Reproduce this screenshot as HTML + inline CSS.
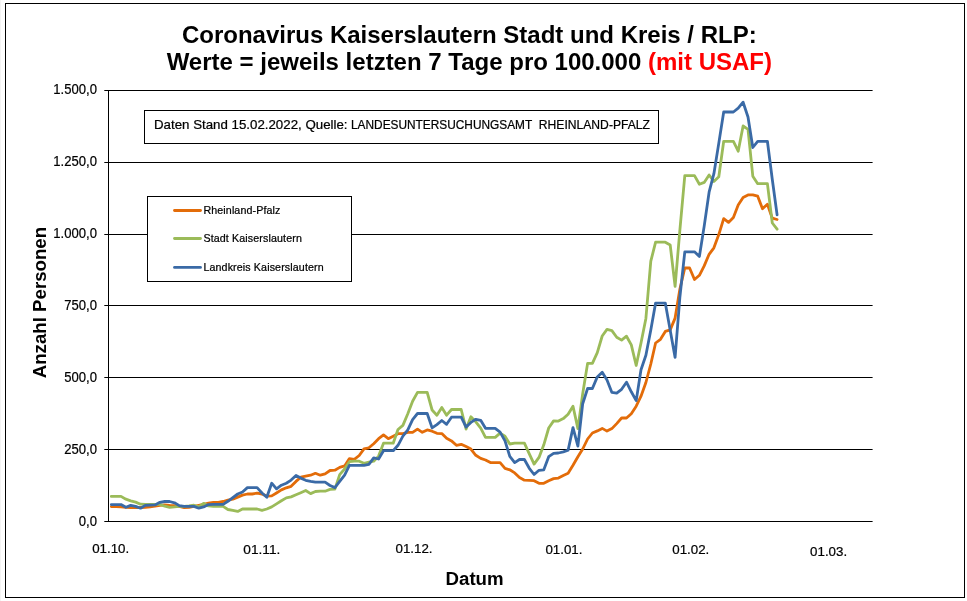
<!DOCTYPE html>
<html lang="de"><head><meta charset="utf-8"><title>Coronavirus Kaiserslautern Stadt und Kreis / RLP</title>
<style>html,body{margin:0;padding:0;background:#fff;}body{width:967px;height:601px;overflow:hidden;}svg{display:block;}text{font-family:"Liberation Sans",Arial,sans-serif;fill:#000;}.s{stroke:#000;stroke-width:0.22px;}</style></head><body>
<svg width="967" height="601" viewBox="0 0 967 601">
<rect x="0" y="0" width="967" height="601" fill="#fff"/>
<rect x="0" y="0" width="1" height="601" fill="#f4f4f4"/>
<rect x="5.5" y="3.5" width="959" height="594" fill="#fff" stroke="#000" stroke-width="1"/>
<line x1="104.3" y1="90.5" x2="872.6" y2="90.5" stroke="#000" stroke-width="1"/>
<line x1="104.3" y1="162.5" x2="872.6" y2="162.5" stroke="#000" stroke-width="1"/>
<line x1="104.3" y1="234.5" x2="872.6" y2="234.5" stroke="#000" stroke-width="1"/>
<line x1="104.3" y1="305.5" x2="872.6" y2="305.5" stroke="#000" stroke-width="1"/>
<line x1="104.3" y1="377.5" x2="872.6" y2="377.5" stroke="#000" stroke-width="1"/>
<line x1="104.3" y1="449.5" x2="872.6" y2="449.5" stroke="#000" stroke-width="1"/>
<line x1="104.3" y1="521.5" x2="872.6" y2="521.5" stroke="#000" stroke-width="1"/>
<line x1="108.5" y1="90" x2="108.5" y2="522" stroke="#000" stroke-width="1"/>
<text class="s" transform="translate(97.0,93.75) scale(0.935,1)" font-size="14" text-anchor="end">1.500,0</text>
<text class="s" transform="translate(97.0,165.75) scale(0.935,1)" font-size="14" text-anchor="end">1.250,0</text>
<text class="s" transform="translate(97.0,237.75) scale(0.935,1)" font-size="14" text-anchor="end">1.000,0</text>
<text class="s" transform="translate(97.0,309.75) scale(0.935,1)" font-size="14" text-anchor="end">750,0</text>
<text class="s" transform="translate(97.0,381.75) scale(0.935,1)" font-size="14" text-anchor="end">500,0</text>
<text class="s" transform="translate(97.0,453.75) scale(0.935,1)" font-size="14" text-anchor="end">250,0</text>
<text class="s" transform="translate(97.0,525.75) scale(0.935,1)" font-size="14" text-anchor="end">0,0</text>
<polyline points="111.3,506.6 116.2,506.6 121.0,506.9 125.9,507.3 130.7,507.5 135.6,507.7 140.5,507.5 145.3,507.3 150.2,506.9 155.0,506.2 159.9,505.4 164.8,504.9 169.6,505.4 174.5,505.6 179.3,506.4 184.2,507.7 189.1,507.3 193.9,506.4 198.8,505.4 203.6,504.4 208.5,503.1 213.4,502.5 218.2,502.3 223.1,501.5 227.9,500.2 232.8,499.2 237.7,497.1 242.5,495.1 247.4,494.0 252.2,494.0 257.1,493.2 262.0,494.0 266.8,496.1 271.7,495.9 276.5,493.0 281.4,489.9 286.3,487.8 291.1,486.3 296.0,481.4 300.8,477.2 305.7,476.2 310.6,475.2 315.4,473.3 320.3,475.2 325.1,473.9 330.0,470.5 334.9,470.2 339.7,467.4 344.6,465.9 349.4,458.6 354.3,459.4 359.2,455.5 364.0,448.9 368.9,447.8 373.7,443.7 378.6,438.7 383.5,434.9 388.3,438.7 393.2,436.2 398.0,433.7 402.9,433.7 407.8,432.4 412.6,432.3 417.5,429.1 422.3,432.3 427.2,429.9 432.1,431.2 436.9,433.3 441.8,433.6 446.6,438.3 451.5,440.9 456.4,445.3 461.2,444.3 466.1,446.6 470.9,449.1 475.8,455.3 480.7,458.4 485.5,460.0 490.4,462.6 495.2,462.6 500.1,462.6 505.0,468.3 509.8,469.8 514.7,472.9 519.5,477.6 524.4,480.2 529.3,480.4 534.1,480.7 539.0,483.3 543.8,483.3 548.7,480.7 553.6,478.6 558.4,478.1 563.3,475.5 568.1,473.2 573.0,465.2 577.9,456.7 582.7,449.0 587.6,439.0 592.4,433.0 597.3,430.9 602.2,428.4 607.0,431.1 611.9,428.6 616.7,423.6 621.6,418.0 626.5,418.0 631.3,413.7 636.2,406.2 641.0,396.2 645.9,382.5 650.8,364.0 655.6,343.0 660.5,339.3 665.3,331.4 670.2,329.9 675.1,318.1 679.9,289.0 684.8,268.0 689.6,268.0 694.5,279.5 699.4,275.3 704.2,265.9 709.1,254.3 713.9,247.8 718.8,234.6 723.7,218.6 728.5,222.4 733.4,217.6 738.2,204.9 743.1,197.4 748.0,194.9 752.8,194.9 757.7,196.2 762.5,208.7 767.4,204.3 772.3,218.2 777.1,219.5" fill="none" stroke="#e36c09" stroke-width="2.8" stroke-linejoin="round" stroke-linecap="round"/>
<polyline points="111.3,496.4 116.2,496.4 121.0,496.4 125.9,499.2 130.7,500.8 135.6,502.1 140.5,504.2 145.3,504.4 150.2,504.4 155.0,504.4 159.9,504.4 164.8,506.2 169.6,507.3 174.5,506.9 179.3,506.4 184.2,506.4 189.1,505.9 193.9,505.2 198.8,506.9 203.6,503.3 208.5,505.9 213.4,506.4 218.2,506.4 223.1,506.4 227.9,509.5 232.8,510.4 237.7,511.4 242.5,509.0 247.4,509.0 252.2,509.0 257.1,509.0 262.0,510.4 266.8,509.0 271.7,506.9 276.5,503.9 281.4,500.8 286.3,497.9 291.1,496.9 296.0,494.8 300.8,492.7 305.7,490.5 310.6,493.6 315.4,491.5 320.3,491.2 325.1,491.2 330.0,489.4 334.9,489.1 339.7,474.6 344.6,469.0 349.4,461.7 354.3,461.2 359.2,461.2 364.0,463.3 368.9,462.2 373.7,461.2 378.6,456.1 383.5,443.2 388.3,443.2 393.2,443.2 398.0,429.5 402.9,425.4 407.8,413.7 412.6,401.2 417.5,392.4 422.3,392.4 427.2,392.4 432.1,410.0 436.9,415.2 441.8,407.4 446.6,415.2 451.5,409.5 456.4,409.5 461.2,409.5 466.1,429.1 470.9,416.7 475.8,421.9 480.7,428.1 485.5,437.4 490.4,437.4 495.2,437.4 500.1,433.1 505.0,436.2 509.8,444.0 514.7,443.2 519.5,443.2 524.4,443.2 529.3,453.8 534.1,464.1 539.0,457.4 543.8,444.8 548.7,428.0 553.6,420.9 558.4,421.1 563.3,418.6 568.1,414.3 573.0,406.2 577.9,428.6 582.7,393.7 587.6,363.4 592.4,363.4 597.3,352.7 602.2,336.0 607.0,329.4 611.9,330.6 616.7,337.2 621.6,340.1 626.5,336.2 631.3,344.9 636.2,365.5 641.0,343.0 645.9,318.4 650.8,261.2 655.6,242.2 660.5,242.2 665.3,242.2 670.2,245.0 675.1,286.4 679.9,229.8 684.8,175.6 689.6,175.6 694.5,175.6 699.4,184.3 704.2,182.4 709.1,175.0 713.9,181.4 718.8,176.8 723.7,141.3 728.5,141.3 733.4,141.3 738.2,151.2 743.1,125.9 748.0,129.4 752.8,176.2 757.7,183.7 762.5,183.7 767.4,183.7 772.3,223.0 777.1,229.2" fill="none" stroke="#9bbb59" stroke-width="2.8" stroke-linejoin="round" stroke-linecap="round"/>
<polyline points="111.3,504.6 116.2,504.6 121.0,504.6 125.9,507.3 130.7,505.4 135.6,506.4 140.5,508.2 145.3,505.4 150.2,505.2 155.0,504.9 159.9,502.3 164.8,501.5 169.6,501.5 174.5,502.8 179.3,505.6 184.2,506.4 189.1,506.4 193.9,506.4 198.8,508.2 203.6,506.9 208.5,504.6 213.4,504.4 218.2,504.4 223.1,504.4 227.9,501.3 232.8,497.6 237.7,494.0 242.5,492.0 247.4,487.6 252.2,487.6 257.1,487.6 262.0,493.0 266.8,497.3 271.7,483.2 276.5,488.9 281.4,485.2 286.3,483.2 291.1,480.1 296.0,475.5 300.8,478.1 305.7,480.3 310.6,481.4 315.4,482.2 320.3,482.2 325.1,482.2 330.0,485.5 334.9,487.6 339.7,481.4 344.6,475.2 349.4,465.3 354.3,465.3 359.2,465.3 364.0,465.3 368.9,464.3 373.7,457.8 378.6,459.0 383.5,450.7 388.3,450.7 393.2,450.7 398.0,445.3 402.9,436.2 407.8,429.9 412.6,419.6 417.5,413.5 422.3,413.5 427.2,413.5 432.1,427.9 436.9,424.6 441.8,420.5 446.6,424.3 451.5,417.2 456.4,417.2 461.2,417.2 466.1,427.1 470.9,422.4 475.8,419.3 480.7,420.3 485.5,428.3 490.4,428.3 495.2,428.3 500.1,432.1 505.0,440.9 509.8,456.4 514.7,462.6 519.5,459.5 524.4,459.5 529.3,468.3 534.1,474.5 539.0,470.3 543.8,469.8 548.7,456.7 553.6,453.3 558.4,453.0 563.3,451.9 568.1,450.2 573.0,427.6 577.9,446.1 582.7,403.7 587.6,388.5 592.4,388.5 597.3,376.9 602.2,372.2 607.0,380.0 611.9,392.4 616.7,393.1 621.6,389.3 626.5,382.2 631.3,391.8 636.2,400.6 641.0,369.8 645.9,355.2 650.8,329.9 655.6,303.1 660.5,303.1 665.3,303.1 670.2,330.3 675.1,357.4 679.9,297.0 684.8,251.8 689.6,251.8 694.5,251.8 699.4,256.4 704.2,226.1 709.1,192.2 713.9,173.7 718.8,143.1 723.7,112.0 728.5,112.0 733.4,112.0 738.2,108.2 743.1,102.2 748.0,117.0 752.8,147.5 757.7,141.3 762.5,141.3 767.4,141.3 772.3,179.5 777.1,214.9" fill="none" stroke="#3a6aa6" stroke-width="2.8" stroke-linejoin="round" stroke-linecap="round"/>
<text x="469.3" y="42.7" font-size="24" font-weight="bold" text-anchor="middle">Coronavirus Kaiserslautern Stadt und Kreis / RLP:</text>
<text x="469.3" y="69.7" font-size="24" font-weight="bold" text-anchor="middle">Werte = jeweils letzten 7 Tage pro 100.000 <tspan fill="#ff0000">(mit USAF)</tspan></text>
<text transform="translate(46,302.6) rotate(-90)" font-size="18.67" font-weight="bold" text-anchor="middle">Anzahl Personen</text>
<text x="474.6" y="584.8" font-size="18.67" font-weight="bold" text-anchor="middle">Datum</text>
<rect x="144.5" y="110.5" width="514" height="33" fill="#fff" stroke="#000" stroke-width="1"/>
<text class="s" y="128.7" font-size="12.4"><tspan x="154.0" font-size="12.8" textLength="193.5" lengthAdjust="spacingAndGlyphs">Daten Stand 15.02.2022, Quelle:</tspan> <tspan x="351.0" textLength="181" lengthAdjust="spacingAndGlyphs">LANDESUNTERSUCHUNGSAMT</tspan> <tspan x="538.8" textLength="111.2" lengthAdjust="spacingAndGlyphs">RHEINLAND-PFALZ</tspan></text>
<rect x="147.5" y="196.5" width="204" height="85" fill="#fff" stroke="#000" stroke-width="1"/>
<line x1="174.5" y1="210.5" x2="200.5" y2="210.5" stroke="#e36c09" stroke-width="2.8" stroke-linecap="round"/>
<text class="s" x="203.4" y="213.6" font-size="10.67" textLength="77" lengthAdjust="spacing">Rheinland-Pfalz</text>
<line x1="174.5" y1="238.5" x2="200.5" y2="238.5" stroke="#9bbb59" stroke-width="2.8" stroke-linecap="round"/>
<text class="s" x="203.4" y="241.6" font-size="10.67" textLength="98.5" lengthAdjust="spacing">Stadt Kaiserslautern</text>
<line x1="174.5" y1="267.4" x2="200.5" y2="267.4" stroke="#3a6aa6" stroke-width="2.8" stroke-linecap="round"/>
<text class="s" x="203.4" y="270.5" font-size="10.67" textLength="120.3" lengthAdjust="spacing">Landkreis Kaiserslautern</text>
<text class="s" x="92.2" y="553.2" font-size="13.4" textLength="37" lengthAdjust="spacingAndGlyphs">01.10.</text>
<text class="s" x="243.3" y="554.0" font-size="13.4" textLength="37" lengthAdjust="spacingAndGlyphs">01.11.</text>
<text class="s" x="395.5" y="553.0" font-size="13.4" textLength="37" lengthAdjust="spacingAndGlyphs">01.12.</text>
<text class="s" x="545.4" y="554.0" font-size="13.4" textLength="37" lengthAdjust="spacingAndGlyphs">01.01.</text>
<text class="s" x="672.3" y="554.0" font-size="13.4" textLength="37" lengthAdjust="spacingAndGlyphs">01.02.</text>
<text class="s" x="810.1" y="556.1" font-size="13.4" textLength="37" lengthAdjust="spacingAndGlyphs">01.03.</text>
</svg></body></html>
